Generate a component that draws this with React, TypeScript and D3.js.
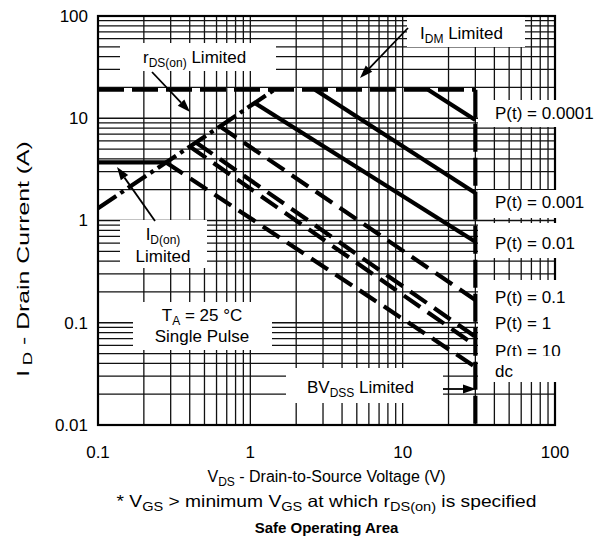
import React from 'react';
import * as d3 from 'd3';

const W = 598;
const H = 543;
const plot = { left: 98, top: 16, right: 555, bottom: 425 };

// axis ranges and ticks
const xDomain: [number, number] = [0.1, 100];
const yDomain: [number, number] = [0.01, 100];
const xTicks = [0.1, 1, 10, 100];
const xTickLabels = ['0.1', '1', '10', '100'];
const yTicks = [0.01, 0.1, 1, 10, 100];
const yTickLabels = ['0.01', '0.1', '1', '10', '100'];

// limit lines, points are [V_DS, I_D]
const idmLimit: [number, number][] = [[0.1, 19], [30, 19]];
const bvdssLimit: [number, number][] = [[30, 19], [30, 0.01]];
const idonLimit: [number, number][] = [[0.1, 3.7], [0.28, 3.7]];
const rdsLimit: [number, number][] = [[0.1, 1.32], [1.44, 19]];

// pulse lines
const pulseNames = ['0.0001', '0.001', '0.01', '0.1', '1', '10', 'dc'];
const pulseStart: [number, number][] = [[14.7, 19], [2.66, 19], [1.07, 14.1], [0.63, 8.35], [0.44, 5.8], [0.4, 5.3], [0.28, 3.7]];
const pulseEnd: [number, number][] = [[30, 9.6], [30, 1.86], [30, 0.62], [30, 0.167], [30, 0.073], [30, 0.06], [30, 0.037]];
const pulseDashed = [false, false, false, true, true, true, true];

const FONT = '"Liberation Sans", Arial, Helvetica, sans-serif';

const x = d3.scaleLog().domain(xDomain).range([plot.left, plot.right]);
const y = d3.scaleLog().domain(yDomain).range([plot.bottom, plot.top]);
const line = d3.line<[number, number]>().x(d => x(d[0])).y(d => y(d[1]));

const gridValues = (lo: number, hi: number) => {
    const out: number[] = [];
    for (let d = lo; d < hi * 0.99; d *= 10) {
        for (let k = 1; k < 10; k++) out.push(d * k);
    }
    out.push(hi);
    return out;
};

// white boxes behind the labels (pixel layout)
const boxes = [
    { x: 120, y: 43, w: 156, h: 28 },
    { x: 407, y: 17, w: 118, h: 30 },
    { x: 120, y: 220, w: 87, h: 48 },
    { x: 133, y: 302, w: 139, h: 48 },
    { x: 286, y: 368, w: 157, h: 35 },
    { x: 478, y: 100, w: 120, h: 27 },
    { x: 478, y: 190, w: 120, h: 28 },
    { x: 478, y: 223, w: 120, h: 35 },
    { x: 478, y: 280, w: 120, h: 102 },
];

const pulseLabelY = [119, 208, 249, 303, 329, 357, 377];

const Arrow = ({ x1, y1, x2, y2 }: { x1: number; y1: number; x2: number; y2: number }) => {
    const a = Math.atan2(y2 - y1, x2 - x1);
    const len = 13;
    const hw = 4.5;
    const bx = x2 - len * Math.cos(a);
    const by = y2 - len * Math.sin(a);
    const p1 = [bx + hw * Math.sin(a), by - hw * Math.cos(a)];
    const p2 = [bx - hw * Math.sin(a), by + hw * Math.cos(a)];
    return (
        <g>
            <line x1={x1} y1={y1} x2={bx} y2={by} stroke="#000" strokeWidth={1.8} />
            <polygon points={`${x2},${y2} ${p1[0]},${p1[1]} ${p2[0]},${p2[1]}`} fill="#000" />
        </g>
    );
};

const App = () => {
    const xs = gridValues(0.1, 100);
    const ys = gridValues(0.01, 100);
    const sub = 12;
    const cx = (plot.left + plot.right) / 2;

    return (
        <svg width={W} height={H} style={{ position: 'absolute', left: 0, top: 0, background: '#fff' }}
            fontFamily={FONT}>
            <rect width={W} height={H} fill="#fff" />

            {/* grid */}
            <g stroke="#111" strokeWidth={1.3}>
                {xs.map((v, i) => (
                    <line key={'gx' + i} x1={x(v)} x2={x(v)} y1={plot.top} y2={plot.bottom} />
                ))}
                {ys.map((v, i) => (
                    <line key={'gy' + i} x1={plot.left} x2={plot.right} y1={y(v)} y2={y(v)} />
                ))}
            </g>
            <rect x={plot.left} y={plot.top} width={plot.right - plot.left} height={plot.bottom - plot.top}
                fill="none" stroke="#000" strokeWidth={2.2} />

            {/* label boxes */}
            {boxes.map((b, i) => (
                <rect key={'b' + i} x={b.x} y={b.y} width={b.w} height={b.h} fill="#fff" />
            ))}

            {/* curves */}
            <g fill="none" stroke="#000" strokeWidth={4.2}>
                <path d={line(idmLimit) || ''} strokeDasharray="26 8" />
                <path d={line(bvdssLimit) || ''} strokeDasharray="28 6" />
                <path d={line(idonLimit) || ''} />
                <path d={line(rdsLimit) || ''} strokeDasharray="22 5 4 5" />
                {pulseNames.map((n, i) => (
                    <path key={n} d={line([pulseStart[i], pulseEnd[i]]) || ''}
                        strokeDasharray={pulseDashed[i] ? '20 9' : undefined} />
                ))}
            </g>

            {/* annotations */}
            <g fontSize={17} fill="#000">
                <text x={143} y={63}>r<tspan fontSize={sub} dy={4}>DS(on)</tspan><tspan dy={-4}> Limited</tspan></text>
                <text x={420} y={39}>I<tspan fontSize={sub} dy={4}>DM</tspan><tspan dy={-4}> Limited</tspan></text>
                <text x={163} y={240} textAnchor="middle">I<tspan fontSize={sub} dy={4}>D(on)</tspan></text>
                <text x={163} y={262} textAnchor="middle">Limited</text>
                <text x={202} y={321} textAnchor="middle">T<tspan fontSize={sub} dy={4}>A</tspan><tspan dy={-4}> = 25 °C</tspan></text>
                <text x={202} y={342} textAnchor="middle">Single Pulse</text>
                <text x={307} y={393}>BV<tspan fontSize={sub} dy={4}>DSS</tspan><tspan dy={-4}> Limited</tspan></text>
                {pulseNames.map((n, i) => (
                    <React.Fragment key={'pl' + n}>
                        <text x={495} y={pulseLabelY[i]}>{n === 'dc' ? 'dc' : `P(t) = ${n}`}</text>
                        {n === '10' && <rect x={478} y={356} width={120} height={8} fill="#fff" />}
                    </React.Fragment>
                ))}
            </g>
            <Arrow x1={152} y1={72} x2={190} y2={112} />
            <Arrow x1={408} y1={28} x2={360} y2={78} />
            <Arrow x1={155} y1={221} x2={117} y2={167} />
            <Arrow x1={443} y1={389} x2={476} y2={389} />

            {/* axes labels */}
            <g fontSize={17} fill="#000">
                {yTicks.map((v, i) => (
                    <text key={'yt' + i} x={88} y={y(v)} dy="0.35em" textAnchor="end">{yTickLabels[i]}</text>
                ))}
                {xTicks.map((v, i) => (
                    <text key={'xt' + i} x={x(v)} y={458} textAnchor="middle">{xTickLabels[i]}</text>
                ))}
            </g>
            <text transform="translate(29,259) rotate(-90) scale(1.55,1)" textAnchor="middle" fontSize={16}>
                I<tspan dx={3} fontSize={12} dy={3}>D</tspan><tspan dy={-3}> - Drain Current (A)</tspan>
            </text>
            <g fontSize={16} textAnchor="middle">
                <text x={cx} y={482}>
                    V<tspan fontSize={sub} dy={4}>DS</tspan><tspan dy={-4}> - Drain-to-Source Voltage (V)</tspan>
                </text>
                <text x={cx} y={507} fontSize={16.5} textLength={420} lengthAdjust="spacingAndGlyphs">
                    * V<tspan fontSize={12.5} dy={4}>GS</tspan><tspan dy={-4}> &gt; minimum V</tspan>
                    <tspan fontSize={12.5} dy={4}>GS</tspan><tspan dy={-4}> at which r</tspan>
                    <tspan fontSize={12.5} dy={4}>DS(on)</tspan><tspan dy={-4}> is specified</tspan>
                </text>
                <text x={cx} y={533} fontSize={15} fontWeight="bold">Safe Operating Area</text>
            </g>
        </svg>
    );
};

export default App;
